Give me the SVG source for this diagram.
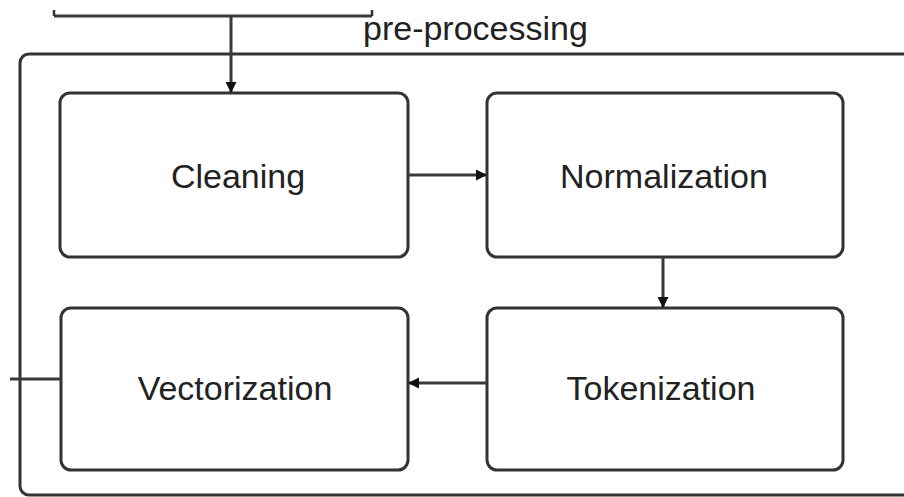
<svg xmlns="http://www.w3.org/2000/svg" width="904" height="497" viewBox="0 0 904 497">
  <defs>
    <marker id="arrow" viewBox="0 0 10 10" refX="10" refY="5" markerWidth="11" markerHeight="12" markerUnits="userSpaceOnUse" orient="auto">
      <path d="M0,0 L10,5 L0,10 z" fill="#111"/>
    </marker>
    <style>
      .box { fill: #ffffff; stroke: #333333; stroke-width: 3; }
      .frame { fill: none; stroke: #333333; stroke-width: 3; }
      .edge { fill: none; stroke: #3a3a3a; stroke-width: 3; }
      .tick { fill: none; stroke: #333333; stroke-width: 2.5; }
      .label { font-family: "Liberation Sans", Arial, sans-serif; font-size: 34px; fill: #222222; text-anchor: middle; }
      .title { font-family: "Liberation Sans", Arial, sans-serif; font-size: 34px; fill: #222222; }
    </style>
  </defs>
  <rect width="904" height="497" fill="#ffffff"/>

  <!-- pre-processing container (continues past the right edge) -->
  <g id="preprocessing">
    <rect class="frame" x="20" y="54" width="920" height="441" rx="9"/>
    <text class="title" x="363" y="40">pre-processing</text>
  </g>

  <g id="cleaning">
    <rect class="box" x="60" y="93" width="348" height="164" rx="10"/>
    <text class="label" x="238" y="188">Cleaning</text>
  </g>
  <g id="normalization">
    <rect class="box" x="487" y="93" width="356" height="164" rx="10"/>
    <text class="label" x="664" y="188">Normalization</text>
  </g>
  <g id="tokenization">
    <rect class="box" x="487" y="308" width="356" height="162" rx="10"/>
    <text class="label" x="661" y="400">Tokenization</text>
  </g>
  <g id="vectorization">
    <rect class="box" x="61" y="308" width="347" height="162" rx="10"/>
    <text class="label" x="235" y="400">Vectorization</text>
  </g>

  <g id="connectors">
    <!-- incoming bus with end ticks -->
    <path class="edge" d="M54,16 L372,16"/>
    <path class="tick" d="M54,10 L54,16 M372,10 L372,16"/>
    <path class="edge" d="M231,16 L231,93" marker-end="url(#arrow)"/>
    <path class="edge" d="M408,175 L487,175" marker-end="url(#arrow)"/>
    <path class="edge" d="M663,257 L663,308" marker-end="url(#arrow)"/>
    <path class="edge" d="M487,383 L408,383" marker-end="url(#arrow)"/>
    <!-- outgoing line -->
    <path class="edge" d="M61,379 L10,379"/>
  </g>
</svg>
